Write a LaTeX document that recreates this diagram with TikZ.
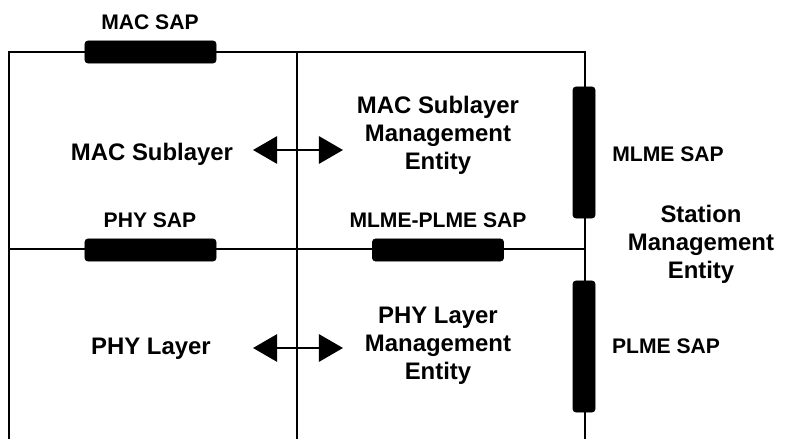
\documentclass[tikz,border=0pt]{standalone}
\usepackage{fontspec}
\setmainfont{Liberation Sans}
\usetikzlibrary{arrows.meta}

\begin{document}
\begin{tikzpicture}[
    x=0.025cm, y=-0.025cm,
    wire/.style={line width=1.5pt},
    lbl/.style={font=\fontsize{15pt}{19pt}\selectfont\bfseries, align=center, inner sep=0pt},
    biglbl/.style={lbl, font=\fontsize{17pt}{19.8pt}\selectfont\bfseries},
    sapbox/.style={fill=black, draw=black, rounded corners=2pt, inner sep=0pt},
    hsap/.style={sapbox, minimum width=3.275cm, minimum height=0.55cm},
    vsap/.style={sapbox, minimum width=0.55cm, minimum height=3.275cm},
    biarr/.style={{Triangle[length=0.6cm,width=0.68cm]}-{Triangle[length=0.6cm,width=0.68cm]}, line width=1.5pt}
  ]
  \useasboundingbox (0,0) rectangle (800,439);

  % Grid corners
  \coordinate (tl) at (9,52);
  \coordinate (tm) at (297,52);
  \coordinate (tr) at (585,52);
  \coordinate (ml) at (9,249);
  \coordinate (mr) at (585,249);
  \coordinate (bl) at (9,439);
  \coordinate (bm) at (297,439);
  \coordinate (br) at (585,439);

  % Lines
  \draw[wire] (bl) -- (tl) -- (tr) -- (br);
  \draw[wire] (tm) -- (bm);
  \draw[wire] (ml) -- (mr);

  % Service access points
  \node[hsap] (macsap)  at (150.5,52)  {};
  \node[hsap] (physap)  at (150.5,250) {};
  \node[hsap] (mpsap)   at (438,250)   {};
  \node[vsap] (mlmesap) at (584,152.5) {};
  \node[vsap] (plmesap) at (584,346.5) {};

  % Labels
  \node[lbl] (macsaplbl)  at (150,22)  {MAC SAP};
  \node[lbl] (physaplbl)  at (150,220) {PHY SAP};
  \node[lbl] (mpsaplbl)   at (438,220) {MLME-PLME SAP};
  \node[lbl] (mlmesaplbl) at (668,154) {MLME SAP};
  \node[lbl] (plmesaplbl) at (666,346) {PLME SAP};
  \node[biglbl] (sme)    at (701,244) {Station\\Management\\Entity};
  \node[biglbl] (macsub) at (152,154) {MAC Sublayer};
  \node[biglbl] (macme)  at (438,135) {MAC Sublayer\\Management\\Entity};
  \node[biglbl] (phy)    at (151,349) {PHY Layer};
  \node[biglbl] (phyme)  at (438,346) {PHY Layer\\Management\\Entity};

  % Arrows
  \coordinate (macA) at (253,150);
  \coordinate (macB) at (343,150);
  \coordinate (phyA) at (253,348);
  \coordinate (phyB) at (343,348);
  \draw[biarr] (macA) -- (macB);
  \draw[biarr] (phyA) -- (phyB);
\end{tikzpicture}
\end{document}
